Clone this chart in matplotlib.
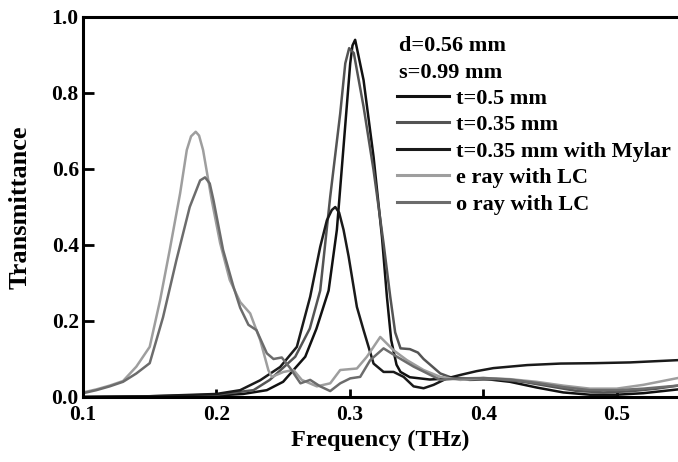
import matplotlib
matplotlib.use("Agg")
import matplotlib.pyplot as plt

plt.rcParams['font.family'] = ['Liberation Serif', 'DejaVu Serif']
plt.rcParams['font.weight'] = 'bold'

# ---- data ----
f_t050 = [0.10, 0.15, 0.20, 0.22, 0.2378, 0.25, 0.2666, 0.2750, 0.2841, 0.2903, 0.2953,
          0.3003, 0.302, 0.304, 0.3103, 0.3178, 0.3241, 0.3278, 0.3310, 0.3350, 0.338, 0.345,
          0.36, 0.38, 0.40, 0.42, 0.44, 0.46, 0.48, 0.50, 0.52, 0.546]
T_t050 = [0.0, 0.001, 0.004, 0.008, 0.018, 0.040, 0.106, 0.18, 0.28, 0.44, 0.659,
          0.878, 0.925, 0.94, 0.834, 0.632, 0.421, 0.264, 0.15, 0.085, 0.066, 0.052,
          0.046, 0.05, 0.048, 0.04, 0.025, 0.012, 0.006, 0.006, 0.01, 0.02]

f_t035 = [0.10, 0.15, 0.20, 0.2278, 0.24, 0.2591, 0.27, 0.2778, 0.2853, 0.2928, 0.2966,
          0.2995, 0.303, 0.3103, 0.3178, 0.3253, 0.3303, 0.334, 0.338, 0.345, 0.351, 0.3553,
          0.3678, 0.3778, 0.39, 0.41, 0.43, 0.45, 0.47, 0.49, 0.51, 0.53, 0.546]
T_t035 = [0.0, 0.002, 0.006, 0.018, 0.045, 0.106, 0.18, 0.28, 0.527, 0.746, 0.878,
          0.918, 0.905, 0.764, 0.597, 0.404, 0.264, 0.17, 0.128, 0.126, 0.117, 0.1,
          0.062, 0.049, 0.045, 0.047, 0.04, 0.028, 0.016, 0.012, 0.015, 0.022, 0.03]

f_mylar = [0.10, 0.15, 0.20, 0.2178, 0.2328, 0.2478, 0.2603, 0.2703, 0.2778, 0.2828, 0.2865,
           0.2891, 0.292, 0.2953, 0.2991, 0.3053, 0.3103, 0.3178, 0.3253, 0.3328, 0.3403,
           0.3478, 0.3553, 0.3628, 0.3728, 0.3828, 0.395, 0.4076, 0.433, 0.458, 0.483,
           0.51, 0.546]
T_mylar = [0.0, 0.002, 0.008, 0.018, 0.044, 0.079, 0.132, 0.264, 0.395, 0.465, 0.492,
           0.50, 0.485, 0.44, 0.37, 0.237, 0.176, 0.088, 0.066, 0.066, 0.053,
           0.028, 0.023, 0.032, 0.049, 0.058, 0.068, 0.076, 0.084, 0.088, 0.089,
           0.091, 0.097]

f_eray = [0.10, 0.11, 0.12, 0.13, 0.14, 0.150, 0.1578, 0.165, 0.1728, 0.1778, 0.181, 0.1845,
          0.187, 0.190, 0.1965, 0.2028, 0.210, 0.2178, 0.2253, 0.2328, 0.2390, 0.2416, 0.2503,
          0.2578, 0.264, 0.2753, 0.2853, 0.2928, 0.3053, 0.3128, 0.3228, 0.3328, 0.3428,
          0.3553, 0.3678, 0.3828, 0.40, 0.42, 0.44, 0.46, 0.48, 0.50, 0.52, 0.546]
T_eray = [0.012, 0.02, 0.03, 0.042, 0.08, 0.132, 0.255, 0.387, 0.536, 0.65, 0.686, 0.698,
          0.688, 0.65, 0.518, 0.405, 0.308, 0.25, 0.22, 0.15, 0.07, 0.053, 0.066,
          0.071, 0.045, 0.028, 0.036, 0.071, 0.075, 0.106, 0.158, 0.123, 0.097,
          0.071, 0.053, 0.045, 0.05, 0.047, 0.04, 0.03, 0.022, 0.022, 0.032, 0.05]

f_oray = [0.10, 0.11, 0.12, 0.13, 0.14, 0.15, 0.16, 0.170, 0.180, 0.1878, 0.1915, 0.195,
          0.1978, 0.205, 0.2128, 0.2178, 0.224, 0.230, 0.2378, 0.2428, 0.249, 0.2553, 0.263,
          0.2703, 0.2778, 0.2853, 0.2928, 0.3003, 0.3078, 0.3153, 0.3253, 0.3353, 0.3478,
          0.3678, 0.3828, 0.40, 0.42, 0.44, 0.46, 0.48, 0.50, 0.52, 0.546]
T_oray = [0.01, 0.018, 0.028, 0.04, 0.062, 0.089, 0.21, 0.36, 0.50, 0.57, 0.578, 0.562,
          0.518, 0.387, 0.29, 0.235, 0.19, 0.176, 0.115, 0.10, 0.104, 0.076, 0.036,
          0.045, 0.028, 0.0156, 0.036, 0.049, 0.053, 0.097, 0.128, 0.106, 0.08,
          0.045, 0.049, 0.05, 0.046, 0.037, 0.026, 0.018, 0.018, 0.022, 0.03]

labels = ["t=0.5 mm", "t=0.35 mm", "t=0.35 mm with Mylar", "e ray with LC", "o ray with LC"]
header = ["d=0.56 mm", "s=0.99 mm"]
xticks = [0.1, 0.2, 0.3, 0.4, 0.5]
yticks = [0.0, 0.2, 0.4, 0.6, 0.8, 1.0]

# ---- figure ----
W, H = 678, 462
fig = plt.figure(figsize=(W / 100, H / 100), dpi=100)
ax = fig.add_axes([83 / W, (H - 397) / H, (W - 83) / W, (397 - 17) / H])

series = [(f_t050, T_t050, '#111111'),
          (f_t035, T_t035, '#545454'),
          (f_mylar, T_mylar, '#1a1a1a'),
          (f_eray, T_eray, '#9e9e9e'),
          (f_oray, T_oray, '#6c6c6c')]
handles = []
for (fx, ty, c), lab in zip(series, labels):
    h, = ax.plot(fx, ty, color=c, lw=1.8, label=lab, solid_joinstyle='round')
    handles.append(h)

ax.set_xlim(0.1, 0.546)
ax.set_ylim(0.0, 1.0)
ax.set_xticks(xticks)
ax.set_yticks(yticks)
ax.set_xticklabels([f"{v:.1f}" for v in xticks])
ax.set_yticklabels([f"{v:.1f}" for v in yticks])
ax.tick_params(axis='both', direction='in', width=2, labelsize=15.5)
ax.tick_params(axis='y', length=8, pad=3)
ax.tick_params(axis='x', length=6, pad=6)
for lbl in ax.get_xticklabels() + ax.get_yticklabels():
    lbl.set_fontweight('bold')
for s in ['left', 'bottom', 'top']:
    ax.spines[s].set_linewidth(2.2)
ax.spines['right'].set_visible(False)

ax.set_xlabel("Frequency (THz)", fontsize=17.5, fontweight='bold')
ax.set_ylabel("Transmittance", fontsize=19, fontweight='bold')
ax.xaxis.set_label_coords(0.5, -(440 - 397) / 380, transform=ax.transAxes)
ax.yaxis.set_label_coords((20 - 83) / 595, 0.5, transform=ax.transAxes)
ax.xaxis.label.set_va('center')
ax.yaxis.label.set_va('center')

for i, t in enumerate(header):
    fig.text(399 / W, 1 - (46 + 27 * i) / H, t, fontsize=16, fontweight='bold',
             ha='left', va='center')

leg = ax.legend(handles=handles, labels=labels, loc='upper left',
                bbox_to_anchor=(397 / W, 1 - 88 / H), bbox_transform=fig.transFigure,
                frameon=False, handlelength=2.34, handletextpad=0.31, labelspacing=0.27,
                borderpad=0, borderaxespad=0,
                prop={'family': ['Liberation Serif'], 'weight': 'bold', 'size': 16})
for lh in leg.get_lines():
    lh.set_linewidth(2.2)

fig.savefig("out.png", dpi=100)
